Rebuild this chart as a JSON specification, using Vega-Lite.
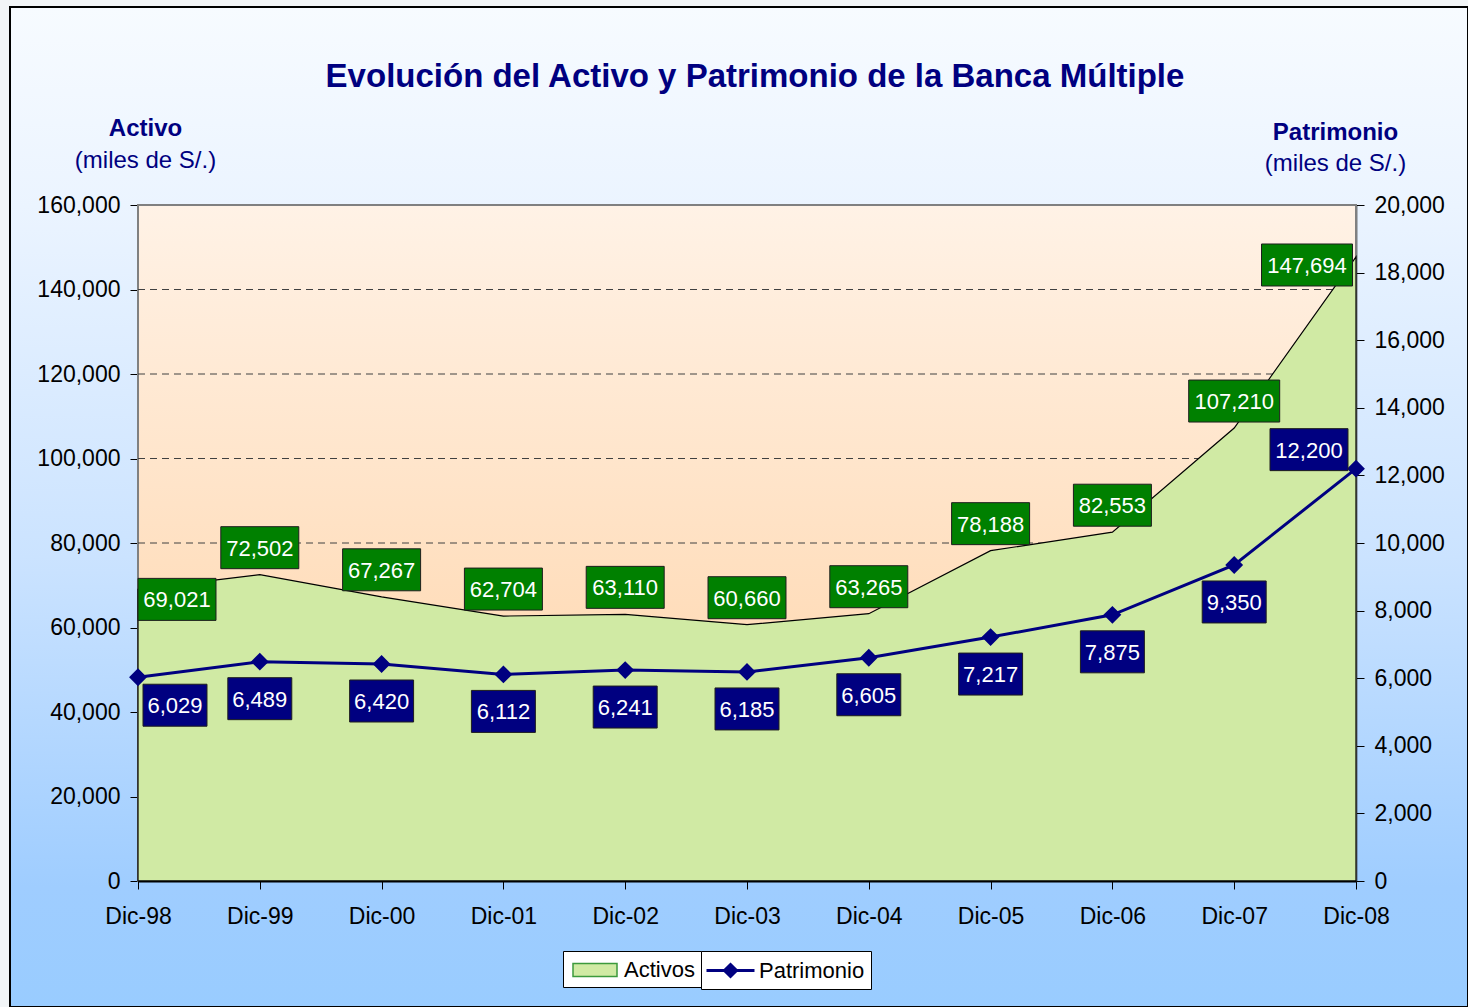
{
  "$schema": "https://vega.github.io/schema/vega-lite/v6.json",
  "width": 1458,
  "height": 1000,
  "autosize": {"type": "none"},
  "padding": {"left": 10, "top": 7, "right": 0, "bottom": 0},
  "background": "#F2F5F7",
  "view": {
    "fill": {"gradient": "linear", "x1": 0, "y1": 0, "x2": 0, "y2": 1,
      "stops": [
        {"offset": 0, "color": "#F7FBFF"},
        {"offset": 0.2, "color": "#EBF4FF"},
        {"offset": 0.55, "color": "#CBE3FF"},
        {"offset": 0.88, "color": "#9FCDFF"},
        {"offset": 1, "color": "#99CCFF"}
      ]},
    "stroke": "#000000",
    "strokeWidth": 2
  },
  "config": {"font": "Liberation Sans"},
  "title": {
    "text": "Evolución del Activo y Patrimonio de la Banca Múltiple",
    "fontSize": 33,
    "fontWeight": "bold",
    "color": "#000080",
    "font": "Liberation Sans",
    "anchor": "middle",
    "frame": "group",
    "baseline": "middle",
    "offset": -103,
    "dx": 16
  },
  "data": {
    "values": [
      {"Fecha": "Dic-98", "Activo": 69021, "Patrimonio": 6029},
      {"Fecha": "Dic-99", "Activo": 72502, "Patrimonio": 6489},
      {"Fecha": "Dic-00", "Activo": 67267, "Patrimonio": 6420},
      {"Fecha": "Dic-01", "Activo": 62704, "Patrimonio": 6112},
      {"Fecha": "Dic-02", "Activo": 63110, "Patrimonio": 6241},
      {"Fecha": "Dic-03", "Activo": 60660, "Patrimonio": 6185},
      {"Fecha": "Dic-04", "Activo": 63265, "Patrimonio": 6605},
      {"Fecha": "Dic-05", "Activo": 78188, "Patrimonio": 7217},
      {"Fecha": "Dic-06", "Activo": 82553, "Patrimonio": 7875},
      {"Fecha": "Dic-07", "Activo": 107210, "Patrimonio": 9350},
      {"Fecha": "Dic-08", "Activo": 147694, "Patrimonio": 12200}
    ]
  },
  "resolve": {"scale": {"y": "independent"}},
  "layer": [
    {
      "layer": [
        {
          "data": {"values": [{}]},
          "mark": {
            "type": "rect",
            "fill": {"gradient": "linear", "x1": 0, "y1": 0, "x2": 0, "y2": 1,
              "stops": [{"offset": 0, "color": "#FFF2E6"}, {"offset": 1, "color": "#FFD0A0"}]},
            "stroke": "#808080",
            "strokeWidth": 2
          },
          "encoding": {
            "x": {"datum": "Dic-98", "type": "ordinal", "title": null,
              "scale": {"type": "point", "padding": 0, "range": [128, 1346], "domain": ["Dic-98","Dic-99","Dic-00","Dic-01","Dic-02","Dic-03","Dic-04","Dic-05","Dic-06","Dic-07","Dic-08"]}},
            "x2": {"datum": "Dic-08"},
            "y": {"datum": 0, "type": "quantitative", "title": "Activo",
              "scale": {"domain": [0, 160000], "range": [874, 198], "nice": false, "zero": true}},
            "y2": {"datum": 160000}
          }
        },
        {
          "data": {"values": [{"grid": 20000}, {"grid": 40000}, {"grid": 60000}, {"grid": 80000}, {"grid": 100000}, {"grid": 120000}, {"grid": 140000}]},
          "mark": {"type": "rule", "stroke": "#404040", "strokeDash": [7, 5], "strokeWidth": 1},
          "encoding": {
            "x": {"datum": "Dic-98", "type": "ordinal", "title": null},
            "x2": {"datum": "Dic-08"},
            "y": {"field": "grid", "type": "quantitative", "title": "Activo"}
          }
        },
        {
          "mark": {"type": "area", "stroke": "#000000", "strokeWidth": 1.2, "opacity": 1},
          "encoding": {
            "x": {"field": "Fecha", "type": "ordinal", "title": null,
              "axis": {"orient": "bottom", "offset": -126, "title": null, "labelAngle": 0, "labelAlign": "center", "labelBaseline": "top",
                "labelFont": "Liberation Sans", "labelFontSize": 23, "labelColor": "#000000",
                "labelPadding": 16, "tickSize": 8, "tickColor": "#000000", "tickWidth": 1,
                "domainColor": "#000000", "domainWidth": 2, "grid": false}},
            "y": {"field": "Activo", "type": "quantitative", "title": "Activo",
              "axis": {"orient": "left", "offset": -128, "values": [0, 20000, 40000, 60000, 80000, 100000, 120000, 140000, 160000],
                "format": ",d", "grid": false, "labelFont": "Liberation Sans", "labelFontSize": 23, "labelColor": "#000000",
                "labelPadding": 10, "tickSize": 8, "tickColor": "#000000", "tickWidth": 1,
                "domainColor": "#000000", "domainWidth": 1.5,
                "title": "Activo", "titleFont": "Liberation Sans", "titleFontSize": 24, "titleFontWeight": "bold", "titleColor": "#000080",
                "titleAngle": 0, "titleAlign": "center", "titleBaseline": "middle", "titleX": 7, "titleY": 121}},
            "fill": {"datum": "Activos", "type": "nominal",
              "scale": {"domain": ["Activos"], "range": ["#D0EAA4"]},
              "legend": {
                "orient": "none", "legendX": 553, "legendY": 944, "direction": "horizontal", "title": null,
                "fillColor": "#FFFFFF", "strokeColor": "#000000", "padding": 6,
                "labelFont": "Liberation Sans", "labelFontSize": 22, "labelColor": "#000000",
                "symbolType": "M-0.75,-0.54H2.917V0.54H-0.75Z",
                "symbolSize": 576, "symbolStrokeColor": "#3C9A3C", "symbolStrokeWidth": 1.5, "labelOffset": 29
              }}
          }
        }
      ]
    },
    {
      "layer": [
        {
          "mark": {"type": "point", "filled": true, "fill": "#008000", "stroke": "#1E1E1E", "strokeWidth": 1, "opacity": 1, "size": 8281,
            "xOffset": {"expr": "datum.Fecha === 'Dic-98' ? 39 : datum.Fecha === 'Dic-08' ? -49 : 0"},
            "yOffset": {"expr": "datum.Fecha === 'Dic-98' ? 10 : datum.Fecha === 'Dic-08' ? 8 : -27"}},
          "encoding": {
            "x": {"field": "Fecha", "type": "ordinal", "title": null},
            "y": {"field": "Activo", "type": "quantitative",
              "scale": {"domain": [0, 160000], "range": [874, 198], "nice": false},
              "axis": {"orient": "left", "offset": -128, "labels": false, "ticks": false, "domain": false, "grid": false,
                "title": "(miles de S/.)", "titleFont": "Liberation Sans", "titleFontSize": 24, "titleFontWeight": "normal", "titleColor": "#000080",
                "titleAngle": 0, "titleAlign": "center", "titleBaseline": "middle", "titleX": 7, "titleY": 153}},
            "shape": {"condition": {"test": "datum.Activo >= 100000", "value": "M-1,-0.4615H1V0.4615H-1Z"}, "value": "M-0.857,-0.4615H0.857V0.4615H-0.857Z"}
          }
        },
        {
          "mark": {"type": "text", "color": "#FFFFFF", "fontSize": 22, "font": "Liberation Sans", "align": "center", "baseline": "middle",
            "xOffset": {"expr": "datum.Fecha === 'Dic-98' ? 39 : datum.Fecha === 'Dic-08' ? -49 : 0"},
            "yOffset": {"expr": "datum.Fecha === 'Dic-98' ? 11 : datum.Fecha === 'Dic-08' ? 9 : -26"}},
          "encoding": {
            "x": {"field": "Fecha", "type": "ordinal", "title": null},
            "y": {"field": "Activo", "type": "quantitative"},
            "text": {"field": "Activo", "type": "quantitative", "format": ",d"}
          }
        }
      ]
    },
    {
      "mark": {"type": "line", "strokeWidth": 3, "point": {"shape": "diamond", "size": 225, "filled": true, "fill": "#000080", "stroke": "#000080", "opacity": 1}},
      "encoding": {
        "x": {"field": "Fecha", "type": "ordinal", "title": null},
        "y": {"field": "Patrimonio", "type": "quantitative",
          "scale": {"domain": [0, 20000], "range": [874, 198], "nice": false},
          "axis": {"orient": "right", "offset": -112, "values": [0, 2000, 4000, 6000, 8000, 10000, 12000, 14000, 16000, 18000, 20000],
            "format": ",d", "grid": false, "labelFont": "Liberation Sans", "labelFontSize": 23, "labelColor": "#000000",
            "labelPadding": 10, "tickSize": 8, "tickColor": "#000000", "tickWidth": 1,
            "domainColor": "#000000", "domainWidth": 1.5,
            "title": "Patrimonio", "titleFont": "Liberation Sans", "titleFontSize": 24, "titleFontWeight": "bold", "titleColor": "#000080",
            "titleAngle": 0, "titleAlign": "center", "titleBaseline": "middle", "titleX": -21, "titleY": 125}},
        "stroke": {"datum": "Patrimonio", "type": "nominal",
          "scale": {"domain": ["Patrimonio"], "range": ["#000080"]},
          "legend": {
            "orient": "none", "legendX": 691, "legendY": 944, "direction": "horizontal", "title": null,
            "fillColor": "#FFFFFF", "strokeColor": "#000000", "padding": 6,
            "labelFont": "Liberation Sans", "labelFontSize": 22, "labelColor": "#000000",
            "symbolType": "M-1.167,0H2.833M0.833,-0.5L1.333,0L0.833,0.5L0.333,0Z",
            "symbolSize": 576, "symbolFillColor": "#000080", "symbolStrokeWidth": 3, "labelOffset": 25
          }}
      }
    },
    {
      "layer": [
        {
          "mark": {"type": "point", "filled": true, "fill": "#000080", "stroke": "#1E1E1E", "strokeWidth": 1, "opacity": 1, "size": 8281,
            "xOffset": {"expr": "datum.Fecha === 'Dic-98' ? 37 : datum.Fecha === 'Dic-08' ? -47 : 0"},
            "yOffset": {"expr": "datum.Fecha === 'Dic-98' ? 28 : datum.Fecha === 'Dic-08' ? -19 : 37"}},
          "encoding": {
            "x": {"field": "Fecha", "type": "ordinal", "title": null},
            "y": {"field": "Patrimonio", "type": "quantitative",
              "scale": {"domain": [0, 20000], "range": [874, 198], "nice": false},
              "axis": {"orient": "right", "offset": -112, "labels": false, "ticks": false, "domain": false, "grid": false,
                "title": "(miles de S/.)", "titleFont": "Liberation Sans", "titleFontSize": 24, "titleFontWeight": "normal", "titleColor": "#000080",
                "titleAngle": 0, "titleAlign": "center", "titleBaseline": "middle", "titleX": -21, "titleY": 156}},
            "shape": {"condition": {"test": "datum.Patrimonio >= 10000", "value": "M-0.857,-0.4615H0.857V0.4615H-0.857Z"}, "value": "M-0.703,-0.4615H0.703V0.4615H-0.703Z"}
          }
        },
        {
          "mark": {"type": "text", "color": "#FFFFFF", "fontSize": 22, "font": "Liberation Sans", "align": "center", "baseline": "middle",
            "xOffset": {"expr": "datum.Fecha === 'Dic-98' ? 37 : datum.Fecha === 'Dic-08' ? -47 : 0"},
            "yOffset": {"expr": "datum.Fecha === 'Dic-98' ? 29 : datum.Fecha === 'Dic-08' ? -18 : 38"}},
          "encoding": {
            "x": {"field": "Fecha", "type": "ordinal", "title": null},
            "y": {"field": "Patrimonio", "type": "quantitative"},
            "text": {"field": "Patrimonio", "type": "quantitative", "format": ",d"}
          }
        }
      ]
    }
  ]
}
